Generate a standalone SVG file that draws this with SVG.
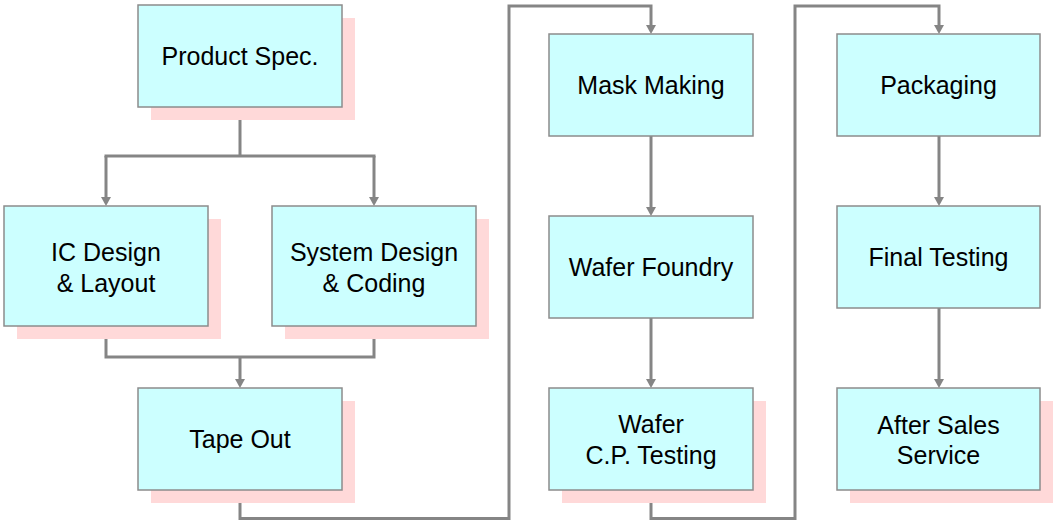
<svg xmlns="http://www.w3.org/2000/svg" width="1053" height="522" viewBox="0 0 1053 522">
<style>
.box{fill:#CCFFFF;stroke:#8C8C8C;stroke-width:1.5}
.sh{fill:#FFD9D9}
.t{font-family:"Liberation Sans",Arial,sans-serif;font-size:25px;fill:#000;text-anchor:middle}
.c{fill:none;stroke:#858585;stroke-width:3}
</style>
<defs>
<marker id="ah" markerUnits="userSpaceOnUse" markerWidth="12" markerHeight="12" refX="4" refY="5" orient="auto">
<path d="M0,0 L9,5 L0,10 z" fill="#858585"/>
</marker>
</defs>
<rect width="1053" height="522" fill="#fff"/>
<g id="connectors">
<path class="c" d="M240,107 V156 M104.5,156 H375.5"/>
<path class="c" d="M106,156 V201" marker-end="url(#ah)"/>
<path class="c" d="M374,156 V201" marker-end="url(#ah)"/>
<path class="c" d="M106,326 V357 H374 V326"/>
<path class="c" d="M240,357 V383" marker-end="url(#ah)"/>
<path class="c" d="M240,490 V518.5 H509 V6 H651 V29" marker-end="url(#ah)"/>
<path class="c" d="M651,136 V211" marker-end="url(#ah)"/>
<path class="c" d="M651,318 V383" marker-end="url(#ah)"/>
<path class="c" d="M651,490 V518.5 H795 V6 H939 V29" marker-end="url(#ah)"/>
<path class="c" d="M939,136 V201" marker-end="url(#ah)"/>
<path class="c" d="M939,308 V383" marker-end="url(#ah)"/>
</g>
<g id="product-spec">
<rect class="sh" x="151" y="18" width="204" height="102"/>
<rect class="box" x="138" y="5" width="204" height="102"/>
<text class="t" x="240" y="65">Product Spec.</text>
</g>
<g id="ic-design">
<rect class="sh" x="17" y="219" width="204" height="120"/>
<rect class="box" x="4" y="206" width="204" height="120"/>
<text class="t" x="106" y="261">IC Design</text>
<text class="t" x="106" y="292">&amp; Layout</text>
</g>
<g id="system-design">
<rect class="sh" x="285" y="219" width="204" height="120"/>
<rect class="box" x="272" y="206" width="204" height="120"/>
<text class="t" x="374" y="261">System Design</text>
<text class="t" x="374" y="292">&amp; Coding</text>
</g>
<g id="tape-out">
<rect class="sh" x="151" y="401" width="204" height="102"/>
<rect class="box" x="138" y="388" width="204" height="102"/>
<text class="t" x="240" y="448">Tape Out</text>
</g>
<g id="mask-making">
<rect class="box" x="549" y="34" width="204" height="102"/>
<text class="t" x="651" y="94">Mask Making</text>
</g>
<g id="wafer-foundry">
<rect class="box" x="549" y="216" width="204" height="102"/>
<text class="t" x="651" y="276">Wafer Foundry</text>
</g>
<g id="wafer-cp-testing">
<rect class="sh" x="562" y="401" width="204" height="102"/>
<rect class="box" x="549" y="388" width="204" height="102"/>
<text class="t" x="651" y="433">Wafer</text>
<text class="t" x="651" y="464">C.P. Testing</text>
</g>
<g id="packaging">
<rect class="box" x="837" y="34" width="203" height="102"/>
<text class="t" x="938.5" y="94">Packaging</text>
</g>
<g id="final-testing">
<rect class="box" x="837" y="206" width="203" height="102"/>
<text class="t" x="938.5" y="266">Final Testing</text>
</g>
<g id="after-sales">
<rect class="sh" x="850" y="401" width="203" height="102"/>
<rect class="box" x="837" y="388" width="203" height="102"/>
<text class="t" x="938.5" y="434">After Sales</text>
<text class="t" x="938.5" y="464">Service</text>
</g>
</svg>
